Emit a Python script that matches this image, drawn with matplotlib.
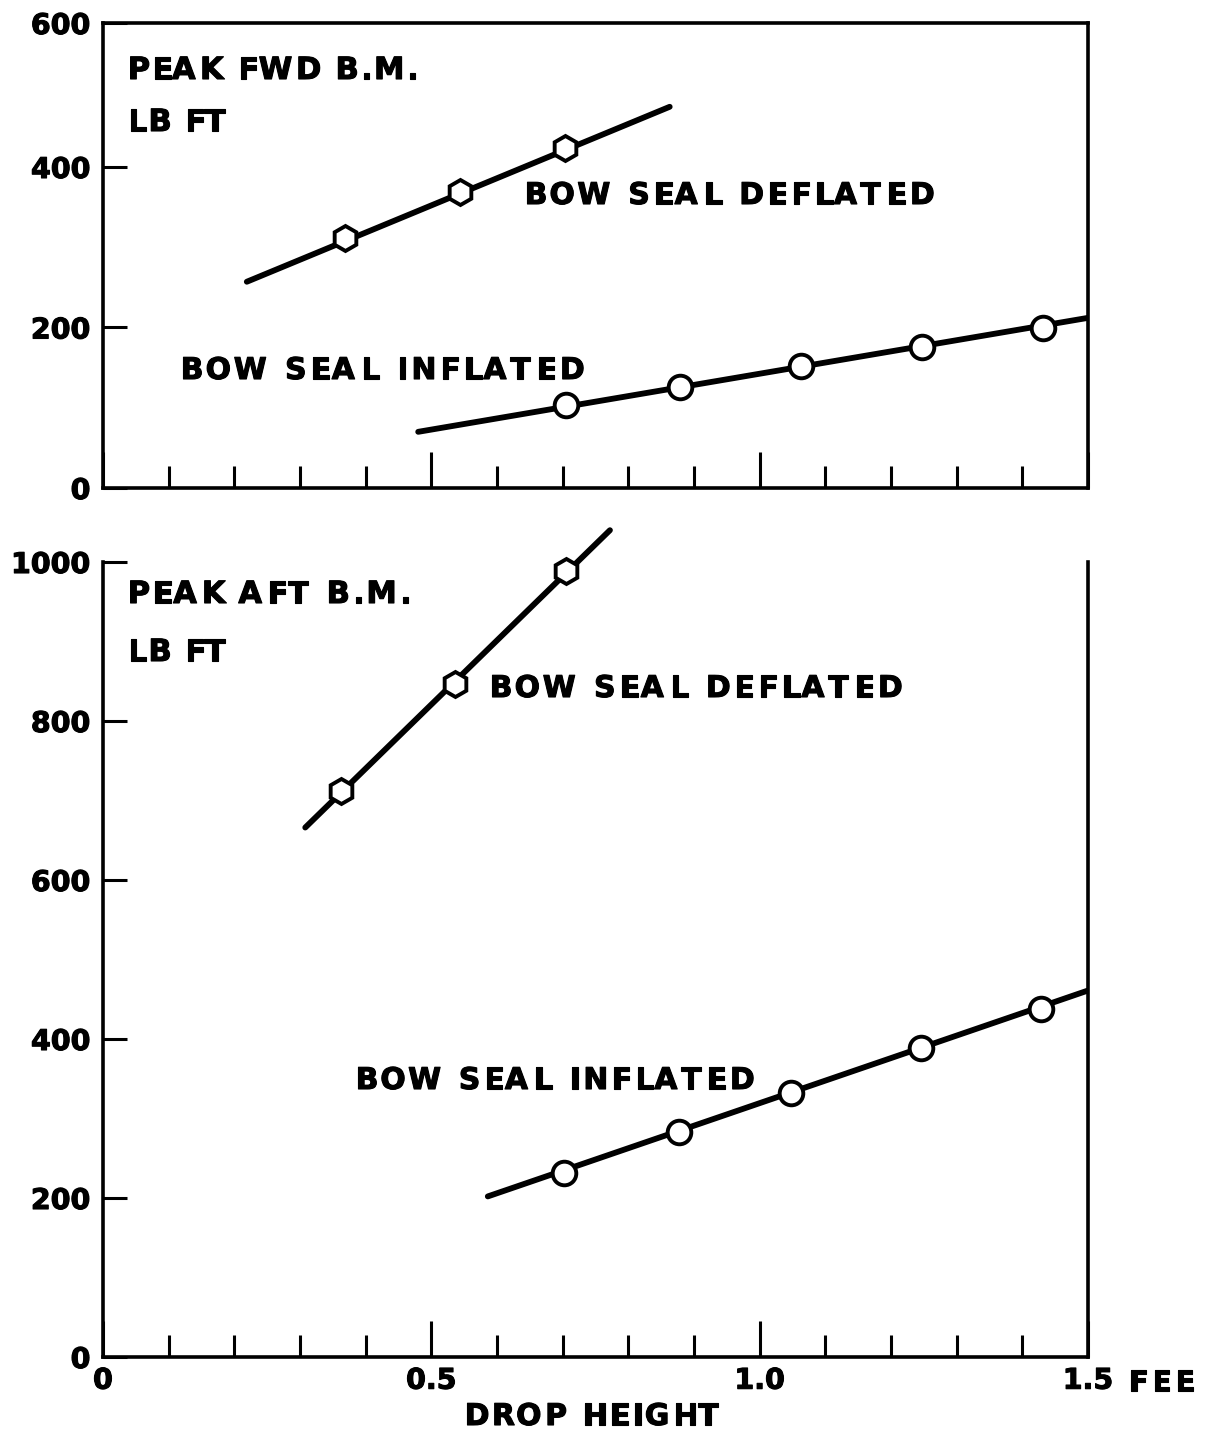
import matplotlib
matplotlib.use("Agg")
import matplotlib.pyplot as plt
import matplotlib.patheffects as pe
from matplotlib.font_manager import FontProperties, findfont
from matplotlib.ft2font import FT2Font
from matplotlib.ticker import FixedLocator

# ---------------- data ----------------
# Upper panel: peak forward bending moment, lb ft
fwd_defl_x = [0.368, 0.544, 0.704]
fwd_defl_y = [312, 369, 424]
fwd_defl_fit_x = [0.219, 0.863]
fwd_defl_fit_y = [257, 475]

fwd_infl_x = [0.705, 0.879, 1.063, 1.247, 1.431]
fwd_infl_y = [103, 126, 152, 176, 199]
fwd_infl_fit_x = [0.48, 1.5]
fwd_infl_fit_y = [70, 212]

# Lower panel: peak aft bending moment, lb ft
aft_defl_x = [0.362, 0.536, 0.705]
aft_defl_y = [712, 847, 989]
aft_defl_fit_x = [0.308, 0.772]
aft_defl_fit_y = [666, 1040]

aft_infl_x = [0.702, 0.877, 1.048, 1.246, 1.428]
aft_infl_y = [231, 283, 332, 389, 438]
aft_infl_fit_x = [0.586, 1.5]
aft_infl_fit_y = [202, 461]

x_major = [0.0, 0.5, 1.0, 1.5]
x_major_labels = ["0", "0.5", "1.0", "1.5"]
x_minor = [0.1, 0.2, 0.3, 0.4, 0.6, 0.7, 0.8, 0.9, 1.1, 1.2, 1.3, 1.4]
fwd_yticks = [0, 200, 400]
fwd_ytop = 579.4
aft_yticks = [0, 200, 400, 600, 800, 1000]

# ---------------- figure ----------------
W, H, DPI = 1210, 1443, 100
FONT = "DejaVu Sans"
fig = plt.figure(figsize=(W / DPI, H / DPI), dpi=DPI)
fig.patch.set_facecolor("white")

ax1 = fig.add_axes([103 / W, 1 - 488 / H, 985 / W, 465 / H])
ax2 = fig.add_axes([103 / W, 1 - 1357 / H, 985 / W, 795 / H])

LW = 4.2
SPW = 2.6
MEW = 2.8
STROKE = [pe.withStroke(linewidth=0.8, foreground="black")]
bold = FontProperties(family=FONT, weight="bold", size=20.5)

for ax in (ax1, ax2):
    ax.set_xlim(0, 1.5)
    for s in ax.spines.values():
        s.set_linewidth(SPW)
        s.set_capstyle("projecting")
    ax.xaxis.set_major_locator(FixedLocator(x_major))
    ax.xaxis.set_minor_locator(FixedLocator(x_minor))
    ax.tick_params(axis="x", which="major", direction="in", length=26, width=2.2, pad=7)
    ax.tick_params(axis="x", which="minor", direction="in", length=16, width=2.2)
    ax.tick_params(axis="y", which="major", direction="in", length=17, width=2.2, pad=9)
    ax.set_facecolor("none")

# upper panel
ax1.set_ylim(0, fwd_ytop)
ax1.set_yticks(fwd_yticks + [fwd_ytop])
ax1.set_yticklabels(["0", "200", "400", "600"], fontproperties=bold)
ax1.set_xticklabels([])

ax1.plot(fwd_defl_fit_x, fwd_defl_fit_y, color="black", lw=LW, solid_capstyle="round", zorder=2)
ax1.plot(fwd_defl_x, fwd_defl_y, linestyle="none", marker="h", ms=18, mfc="white",
         mec="black", mew=MEW, zorder=3)
ax1.plot(fwd_infl_fit_x, fwd_infl_fit_y, color="black", lw=LW, solid_capstyle="round", zorder=2)
ax1.plot(fwd_infl_x, fwd_infl_y, linestyle="none", marker="o", ms=17, mfc="white",
         mec="black", mew=MEW, zorder=3)

# lower panel
ax2.set_ylim(0, 1000)
ax2.set_yticks(aft_yticks)
ax2.set_yticklabels([str(v) for v in aft_yticks], fontproperties=bold)
ax2.set_xticklabels(x_major_labels, fontproperties=bold)
ax2.spines["top"].set_visible(False)

ax2.plot(aft_defl_fit_x, aft_defl_fit_y, color="black", lw=LW, solid_capstyle="round",
         zorder=2, clip_on=False)
ax2.plot(aft_defl_x, aft_defl_y, linestyle="none", marker="h", ms=18, mfc="white",
         mec="black", mew=MEW, zorder=3, clip_on=False)
ax2.plot(aft_infl_fit_x, aft_infl_fit_y, color="black", lw=LW, solid_capstyle="round", zorder=2)
ax2.plot(aft_infl_x, aft_infl_y, linestyle="none", marker="o", ms=17, mfc="white",
         mec="black", mew=MEW, zorder=3)

for ax in (ax1, ax2):
    for lab in ax.get_xticklabels() + ax.get_yticklabels():
        lab.set_path_effects(STROKE)


# ---------------- letter-spaced bold labels ----------------
def tracked(x_px, base_px, s, width_px, size=19.5, ha="left"):
    prop = FontProperties(family=FONT, weight="bold", size=size)
    font = FT2Font(findfont(prop))
    font.set_size(size, DPI)
    advs = []
    for c in s:
        g = font.load_char(ord(c))
        advs.append((c, g.linearHoriAdvance / 65536.0, g.horiBearingX / 64.0))
    natural = sum(a for _, a, _ in advs)
    track = (width_px - natural) / max(len(s) - 1, 1)
    pen = 0.0
    items = []
    for c, adv, bear in advs:
        items.append((c, pen + bear))
        pen += adv + track
    x0 = x_px - (width_px / 2 if ha == "center" else 0)
    for c, off in items:
        if c != " ":
            fig.text((x0 + off) / W, 1 - base_px / H, c, fontproperties=prop,
                     ha="left", va="baseline", color="black", path_effects=STROKE)


tracked(125, 79, "PEAK FWD B.M.", 290, size=22)
tracked(125, 131, "LB FT", 100, size=22)
tracked(522, 204, "BOW SEAL DEFLATED", 410, size=21.5)
tracked(178, 379, "BOW SEAL INFLATED", 404, size=21.5)

tracked(125, 603, "PEAK AFT B.M.", 283, size=22)
tracked(125, 661, "LB FT", 100, size=22)
tracked(487, 697, "BOW SEAL DEFLATED", 413, size=21.5)
tracked(353, 1089, "BOW SEAL INFLATED", 399, size=21.5)

tracked(590, 1425, "DROP HEIGHT", 256, size=21.5, ha="center")
tracked(1126, 1391, "FEE", 66, size=20.5)

fig.savefig("out.png", dpi=DPI, facecolor="white")
